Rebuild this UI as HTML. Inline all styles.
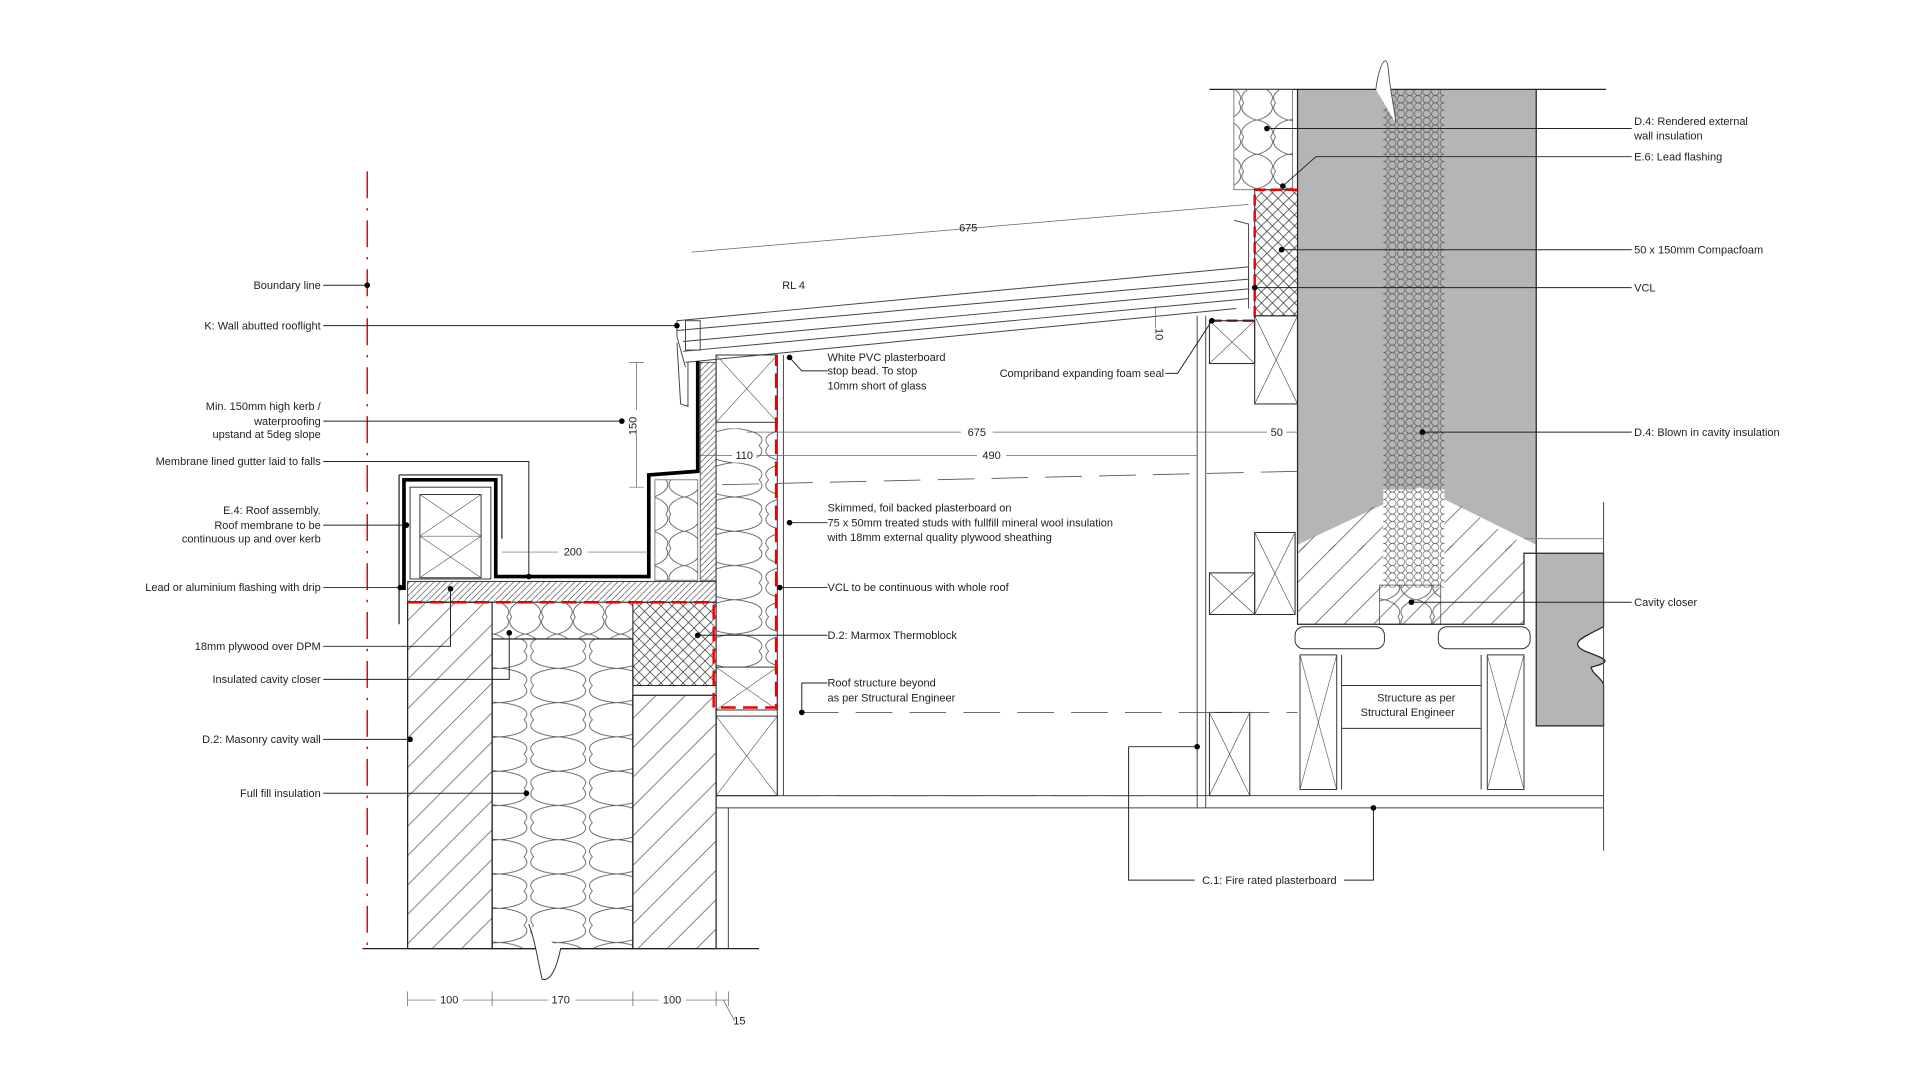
<!DOCTYPE html>
<html><head><meta charset="utf-8"><style>
html,body{margin:0;padding:0;background:#fff;}
svg{display:block;}
text{font-family:"Liberation Sans",sans-serif;font-size:9px;fill:#222;}
</style></head><body>
<svg width="1920" height="1080" viewBox="0 0 1568.5 882.3" xmlns="http://www.w3.org/2000/svg">
<defs>
<pattern id="diag" width="24" height="24" patternUnits="userSpaceOnUse"><path d="M0 24 L24 0 M-6 6 L6 -6 M18 30 L30 18" stroke="#555" stroke-width="0.6"/></pattern>
<pattern id="fine" width="5" height="5" patternUnits="userSpaceOnUse"><path d="M0 5 L5 0" stroke="#444" stroke-width="0.5"/></pattern>
<pattern id="xh" width="9" height="9" patternUnits="userSpaceOnUse"><path d="M0 0 L9 9 M9 0 L0 9" stroke="#333" stroke-width="0.6"/></pattern>
<pattern id="hex" width="7" height="6" patternUnits="userSpaceOnUse"><circle cx="3.5" cy="3" r="3" fill="none" stroke="#555" stroke-width="0.5"/></pattern>
<pattern id="ins" width="26" height="28" patternUnits="userSpaceOnUse"><path d="M2 0 C-4 8 10 14 13 14 C16 14 30 8 24 0 M2 28 C-4 20 10 14 13 14 C16 14 30 20 24 28" fill="none" stroke="#444" stroke-width="0.6"/></pattern>
<pattern id="ins2" width="48" height="28" patternUnits="userSpaceOnUse"><path d="M4 0 C-6 10 18 14 24 14 C30 14 54 10 44 0 M4 28 C-6 18 18 14 24 14 C30 14 54 18 44 28" fill="none" stroke="#444" stroke-width="0.6"/></pattern>
</defs>

<line x1="300" y1="140" x2="300" y2="775" stroke="#e00" stroke-width="1.2" stroke-dasharray="22,8,2,8"/>

<rect x="1060" y="73" width="195" height="378" fill="#b5b5b5"/>
<rect x="1130" y="73" width="50" height="330" fill="url(#hex)"/>
<polygon points="1060,445 1160,398 1255,445 1245,510 1060,510" fill="#fff"/>
<rect x="1060" y="445" width="185" height="65" fill="url(#diag)"/>
<polygon points="1060,445 1140,405 1180,405 1245,445 1245,450 1060,450" fill="url(#diag)"/>
<rect x="1130" y="400" width="50" height="80" fill="#fff"/>
<rect x="1130" y="400" width="50" height="80" fill="url(#hex)"/>
<rect x="1127" y="478" width="50" height="32" fill="url(#ins)" stroke="#444" stroke-width="0.6"/>
<path d="M1060 73 V510 H1245 V452 H1255 V73" fill="none" stroke="#222" stroke-width="1"/>
<line x1="988" y1="73" x2="1312" y2="73" stroke="#222" stroke-width="1"/>
<path d="M1124 73 C1125 60 1132 40 1134 55 C1136 80 1140 90 1140 100" fill="#fff" stroke="#444" stroke-width="0.7"/>
<path d="M1255 452 H1310 V512 C1295 520 1280 525 1295 532 C1310 538 1320 540 1300 545 C1300 550 1310 555 1310 560 V593 H1255 Z" fill="#b5b5b5" stroke="#222" stroke-width="1"/>
<line x1="1310" y1="410" x2="1310" y2="695" stroke="#444" stroke-width="0.8"/>
<line x1="1245" y1="440" x2="1310" y2="440" stroke="#888" stroke-width="0.8"/>

<rect x="1008" y="73" width="48" height="82" fill="url(#ins)" stroke="#555" stroke-width="0.6"/>
<rect x="1025" y="155" width="35" height="103" fill="url(#xh)" stroke="#222" stroke-width="0.8"/>
<path d="M1060 155 H1025 V262 H985" fill="none" stroke="#e00" stroke-width="2" stroke-dasharray="9,4"/>
<rect x="1025" y="258" width="35" height="72" fill="none" stroke="#222" stroke-width="0.8"/>
<path d="M1025 258 L1060 330 M1060 258 L1025 330" stroke="#444" stroke-width="0.5"/>
<rect x="988" y="262" width="37" height="35" fill="none" stroke="#222" stroke-width="0.8"/>
<path d="M988 262 L1025 297 M1025 262 L988 297" stroke="#444" stroke-width="0.5"/>
<rect x="1025" y="435" width="33" height="67" fill="none" stroke="#222" stroke-width="0.8"/>
<path d="M1025 435 L1058 502 M1058 435 L1025 502" stroke="#444" stroke-width="0.5"/>
<rect x="988" y="468" width="37" height="34" fill="none" stroke="#222" stroke-width="0.8"/>
<path d="M988 468 L1025 502 M1025 468 L988 502" stroke="#444" stroke-width="0.5"/>
<rect x="988" y="582" width="33" height="68" fill="none" stroke="#222" stroke-width="0.8"/>
<path d="M988 582 L1021 650 M1021 582 L988 650" stroke="#444" stroke-width="0.5"/>
<line x1="978" y1="258" x2="978" y2="660" stroke="#444" stroke-width="0.8"/>
<line x1="985" y1="258" x2="985" y2="660" stroke="#444" stroke-width="0.8"/>
<rect x="1058" y="512" width="73" height="18" rx="7" fill="#fff" stroke="#333" stroke-width="0.8"/>
<rect x="1175" y="512" width="75" height="18" rx="7" fill="#fff" stroke="#333" stroke-width="0.8"/>
<rect x="1062" y="535" width="30" height="110" fill="none" stroke="#333" stroke-width="0.8"/>
<path d="M1062 535 L1092 645 M1092 535 L1062 645" stroke="#555" stroke-width="0.5"/>
<rect x="1215" y="535" width="30" height="110" fill="none" stroke="#333" stroke-width="0.8"/>
<path d="M1215 535 L1245 645 M1245 535 L1215 645" stroke="#555" stroke-width="0.5"/>
<path d="M1096 535 V645 M1210 535 V645 M1096 560 H1210 M1096 595 H1210" stroke="#333" stroke-width="0.8"/>
<text x="1157" y="573" text-anchor="middle">Structure as per</text>
<text x="1150" y="585" text-anchor="middle">Structural Engineer</text>
<path d="M585 650 H1310 M585 660 H1310" stroke="#444" stroke-width="0.8"/>
<path d="M595 660 V775" stroke="#444" stroke-width="0.8"/>

<g stroke="#444" stroke-width="0.8" fill="none">
<path d="M553 262 L1020 218 M553 270 L1020 228 M558 279 L1020 236 M558 287 L1020 244 M560 296 L1010 252"/>
<path d="M553 262 L553 275 L560 300 M1020 218 L1020 252"/>
<rect x="560" y="262" width="12" height="24"/>
<path d="M1008 180 L1020 183 L1020 240"/>
<path d="M553 280 L556 330 L562 332 L562 296"/>
</g>
<path d="M565 206 L1020 167" stroke="#666" stroke-width="0.6"/>
<text x="791" y="189" text-anchor="middle">675</text>
<text x="639" y="236">RL 4</text>
<path d="M944 250 V268" stroke="#666" stroke-width="0.6"/>
<text x="944" y="273" transform="rotate(90 944 273)" text-anchor="middle">10</text>

<rect x="333" y="475" width="252" height="17" fill="url(#fine)" stroke="#333" stroke-width="0.8"/>
<path d="M570 295 V385 L530 388 V471 H405 V392 H330 V482" fill="none" stroke="#000" stroke-width="3"/>
<path d="M326 388 H410 V440 M326 388 V510" fill="none" stroke="#222" stroke-width="1"/>
<rect x="335" y="398" width="66" height="75" fill="none" stroke="#333" stroke-width="0.8"/>
<rect x="343" y="404" width="50" height="68" fill="none" stroke="#333" stroke-width="0.8"/>
<path d="M343 404 L393 438 M393 404 L343 438 M343 438 L393 472 M393 438 L343 472 M343 438 H393" stroke="#555" stroke-width="0.5"/>
<rect x="535" y="392" width="35" height="82" fill="url(#ins)" stroke="#555" stroke-width="0.6"/>
<rect x="572" y="296" width="13" height="178" fill="url(#fine)" stroke="#333" stroke-width="0.6"/>
<rect x="585" y="290" width="50" height="360" fill="none" stroke="#333" stroke-width="0.8"/>
<rect x="585" y="350" width="50" height="195" fill="url(#ins2)"/>
<rect x="585" y="290" width="50" height="55" fill="none" stroke="#333" stroke-width="0.8"/>
<path d="M585 290 L635 345 M635 290 L585 345" stroke="#555" stroke-width="0.5"/>
<rect x="585" y="545" width="50" height="35" fill="none" stroke="#333" stroke-width="0.8"/>
<path d="M585 545 L635 580 M635 545 L585 580" stroke="#555" stroke-width="0.5"/>
<rect x="585" y="585" width="50" height="65" fill="none" stroke="#333" stroke-width="0.8"/>
<path d="M585 585 L635 650 M635 585 L585 650" stroke="#555" stroke-width="0.5"/>
<path d="M640 290 V650" stroke="#444" stroke-width="0.8"/>
<rect x="333" y="492" width="69" height="283" fill="url(#diag)" stroke="#222" stroke-width="1"/>
<rect x="402" y="492" width="115" height="30" fill="url(#ins)" stroke="#333" stroke-width="0.6"/>
<rect x="402" y="522" width="115" height="253" fill="url(#ins2)" stroke="#222" stroke-width="1"/>
<rect x="517" y="492" width="68" height="68" fill="url(#xh)" stroke="#222" stroke-width="0.8"/>
<rect x="517" y="568" width="68" height="207" fill="url(#diag)" stroke="#222" stroke-width="1"/>
<path d="M296 775 H620" stroke="#222" stroke-width="1"/>
<path d="M432 755 C438 770 440 790 443 800 C450 802 455 790 458 775" fill="#fff" stroke="#333" stroke-width="0.8"/>
<path d="M333 492 H583 V578 H634 V290" fill="none" stroke="#e00" stroke-width="2" stroke-dasharray="12,6"/>

<g stroke="#555" stroke-width="0.7" stroke-dasharray="30,14" fill="none">
<path d="M590 396 L1060 385"/><path d="M655 582 H1060"/><path d="M640 650 H978"/>
</g>
<g stroke="#666" stroke-width="0.6" fill="none">
<path d="M610 353 H1060"/><path d="M572 372 H978"/><path d="M520 296 V398 M514 296 H526 M514 398 H526"/>
<path d="M410 451 H530"/><path d="M333 817 H595 M333 810 V822 M402 810 V822 M517 810 V822 M585 810 V822 M595 810 V822"/>
<path d="M591 817 L600 834"/>
</g>
<g font-size="9">
<rect x="785" y="347" width="26" height="12" fill="#fff"/><text x="798" y="356" text-anchor="middle">675</text>
<rect x="1035" y="347" width="16" height="12" fill="#fff"/><text x="1043" y="356" text-anchor="middle">50</text>
<rect x="598" y="366" width="20" height="12" fill="#fff"/><text x="608" y="375" text-anchor="middle">110</text>
<rect x="798" y="366" width="24" height="12" fill="#fff"/><text x="810" y="375" text-anchor="middle">490</text>
<rect x="456" y="445" width="24" height="12" fill="#fff"/><text x="468" y="454" text-anchor="middle">200</text>
<rect x="514" y="335" width="12" height="20" fill="#fff"/><text x="517" y="345" transform="rotate(-90 520 345)" text-anchor="middle">150</text>
<rect x="356" y="812" width="22" height="10" fill="#fff"/><text x="367" y="820" text-anchor="middle">100</text>
<rect x="448" y="812" width="22" height="10" fill="#fff"/><text x="458" y="820" text-anchor="middle">170</text>
<rect x="538" y="812" width="22" height="10" fill="#fff"/><text x="549" y="820" text-anchor="middle">100</text>
<text x="604" y="837" text-anchor="middle">15</text>
</g>

<g stroke="#222" stroke-width="0.8" fill="none">
<path d="M264 233 H300"/><path d="M264 266 H553"/><path d="M264 344 H508"/>
<path d="M264 377 H432 V471"/><path d="M264 429 H332"/><path d="M264 480 H327"/>
<path d="M264 528 H368 V481"/><path d="M264 555 H416 V517"/><path d="M264 604 H335"/><path d="M264 648 H430"/>
<path d="M676 303 H655 L645 292"/><path d="M676 427 H645"/><path d="M676 480 H637"/><path d="M676 519 H570"/><path d="M676 558 H655 V582"/>
<path d="M952 305 H962 L990 262"/>
<path d="M1333 105 H1035"/><path d="M1333 128 H1075 L1048 152"/><path d="M1333 204 H1047"/><path d="M1333 235 H1025"/>
<path d="M1333 353 H1162"/><path d="M1333 492 H1153"/>
<path d="M922 610 H978 M922 610 V719 H976 M1098 719 H1122 V660"/>
</g>
<g fill="#000">
<circle cx="300" cy="233" r="2.3"/><circle cx="553" cy="266" r="2.3"/><circle cx="508" cy="344" r="2.3"/><circle cx="432" cy="471" r="2.3"/>
<circle cx="332" cy="429" r="2.3"/><circle cx="327" cy="480" r="2.3"/><circle cx="368" cy="481" r="2.3"/><circle cx="416" cy="517" r="2.3"/>
<circle cx="335" cy="604" r="2.3"/><circle cx="430" cy="648" r="2.3"/><circle cx="645" cy="292" r="2.3"/><circle cx="645" cy="427" r="2.3"/>
<circle cx="637" cy="480" r="2.3"/><circle cx="570" cy="519" r="2.3"/><circle cx="655" cy="582" r="2.3"/><circle cx="990" cy="262" r="2.3"/>
<circle cx="1035" cy="105" r="2.3"/><circle cx="1048" cy="152" r="2.3"/><circle cx="1047" cy="204" r="2.3"/><circle cx="1025" cy="235" r="2.3"/>
<circle cx="1162" cy="353" r="2.3"/><circle cx="1153" cy="492" r="2.3"/><circle cx="978" cy="610" r="2.3"/><circle cx="1122" cy="660" r="2.3"/>
</g>

<g text-anchor="end">
<text x="262" y="236">Boundary line</text>
<text x="262" y="269">K: Wall abutted rooflight</text>
<text x="262" y="335">Min. 150mm high kerb /</text>
<text x="262" y="347">waterproofing</text>
<text x="262" y="358">upstand at 5deg slope</text>
<text x="262" y="380">Membrane lined gutter laid to falls</text>
<text x="262" y="420">E.4: Roof assembly.</text>
<text x="262" y="432">Roof membrane to be</text>
<text x="262" y="443">continuous up and over kerb</text>
<text x="262" y="483">Lead or aluminium flashing with drip</text>
<text x="262" y="531">18mm plywood over DPM</text>
<text x="262" y="558">Insulated cavity closer</text>
<text x="262" y="607">D.2: Masonry cavity wall</text>
<text x="262" y="651">Full fill insulation</text>
<text x="951" y="308">Compriband expanding foam seal</text>
</g>
<text x="676" y="295">White PVC plasterboard</text>
<text x="676" y="306">stop bead.  To stop</text>
<text x="676" y="318">10mm short of glass</text>
<text x="676" y="418">Skimmed, foil backed plasterboard on</text>
<text x="676" y="430">75 x 50mm treated studs with fullfill mineral wool insulation</text>
<text x="676" y="442">with 18mm external quality plywood sheathing</text>
<text x="676" y="483">VCL to be continuous with whole roof</text>
<text x="676" y="522">D.2: Marmox Thermoblock</text>
<text x="676" y="561">Roof structure beyond</text>
<text x="676" y="573">as per Structural Engineer</text>
<text x="1335" y="102">D.4: Rendered external</text>
<text x="1335" y="114">wall insulation</text>
<text x="1335" y="131">E.6: Lead flashing</text>
<text x="1335" y="207">50 x 150mm Compacfoam</text>
<text x="1335" y="238">VCL</text>
<text x="1335" y="356">D.4: Blown in cavity insulation</text>
<text x="1335" y="495">Cavity closer</text>
<text x="1037" y="722" text-anchor="middle">C.1: Fire rated plasterboard</text>
</svg>
</body></html>
